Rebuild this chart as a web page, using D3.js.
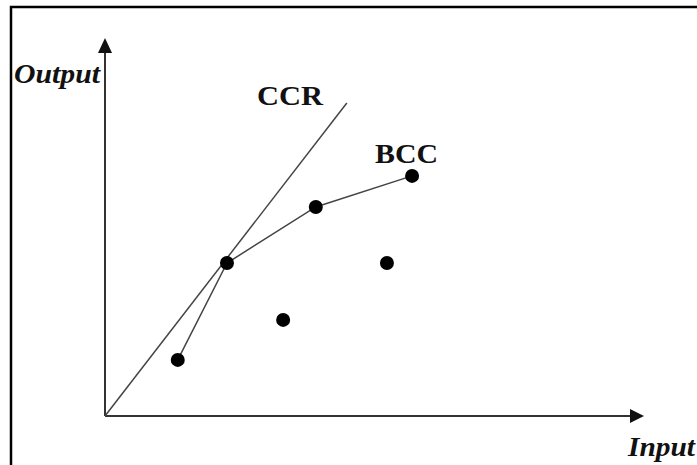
<!DOCTYPE html>
<html>
<head>
<meta charset="utf-8">
<script src="https://cdn.jsdelivr.net/npm/d3@7"></script>
<style>
  html, body { margin: 0; padding: 0; background: #fff; }
  svg { display: block; }
</style>
</head>
<body>
<div id="js-chart"></div>
<script>
// 数据 (units along each axis, origin = 0)
var bccFrontier = [
    {x: 13.6, y: 15.0},
    {x: 22.8, y: 40.9},
    {x: 39.4, y: 55.9},
    {x: 57.4, y: 64.2}
];
var otherUnits = [
    {x: 33.3, y: 25.7},
    {x: 52.7, y: 40.9}
];
var ccrLine = [
    {x: 0, y: 0},
    {x: 45.2, y: 83.7}
];
var axisLabels = ["Input", "Output"];
var lineLabels = ["CCR", "BCC"];

var width = 697,
    height = 465;

var svg = d3.select("#js-chart").append("svg")
    .attr("width", width)
    .attr("height", height);

// 边框 (top and left only, rest is cropped)
svg.append("path")
    .attr("d", "M11,465 V7 H697")
    .attr("fill", "none")
    .attr("stroke", "#000")
    .attr("stroke-width", 2.5);

var x = d3.scaleLinear().domain([0, 100]).range([105, 640]);
var y = d3.scaleLinear().domain([0, 100]).range([416, 42]);

var ink = "#333";

// 坐标轴
svg.append("line")
    .attr("x1", x(0)).attr("y1", y(0))
    .attr("x2", x(0)).attr("y2", 50)
    .attr("stroke", ink).attr("stroke-width", 2);
svg.append("path")
    .attr("d", "M" + x(0) + ",38 l-7,15 h14 z")
    .attr("fill", "#111");

svg.append("line")
    .attr("x1", x(0)).attr("y1", y(0))
    .attr("x2", 632).attr("y2", y(0))
    .attr("stroke", ink).attr("stroke-width", 2);
svg.append("path")
    .attr("d", "M644," + y(0) + " l-14,-7 v14 z")
    .attr("fill", "#111");

var line = d3.line()
    .x(function (d) { return x(d.x); })
    .y(function (d) { return y(d.y); });

svg.append("path")
    .datum(ccrLine)
    .attr("d", line)
    .attr("fill", "none")
    .attr("stroke", "#444")
    .attr("stroke-width", 1.5);

svg.append("path")
    .datum(bccFrontier)
    .attr("d", line)
    .attr("fill", "none")
    .attr("stroke", "#444")
    .attr("stroke-width", 1.5);

svg.selectAll("circle.dmu")
    .data(bccFrontier.concat(otherUnits))
    .enter().append("circle")
    .attr("class", "dmu")
    .attr("cx", function (d) { return x(d.x); })
    .attr("cy", function (d) { return y(d.y); })
    .attr("r", 7)
    .attr("fill", "#000");

// 文字
var serif = "'Liberation Serif', 'DejaVu Serif', serif";

function label(tx, ty, size, len, italic, txt) {
    svg.append("text")
        .attr("x", tx).attr("y", ty)
        .attr("font-family", serif)
        .attr("font-weight", "bold")
        .attr("font-style", italic ? "italic" : "normal")
        .attr("font-size", size)
        .attr("textLength", len)
        .attr("lengthAdjust", "spacingAndGlyphs")
        .attr("fill", "#111")
        .text(txt);
}

label(14, 83, 28, 86, true, axisLabels[1]);
label(628, 456, 27, 67, true, axisLabels[0]);
label(257, 105, 27, 66, false, lineLabels[0]);
label(375, 163, 27, 63, false, lineLabels[1]);
</script>
</body>
</html>
